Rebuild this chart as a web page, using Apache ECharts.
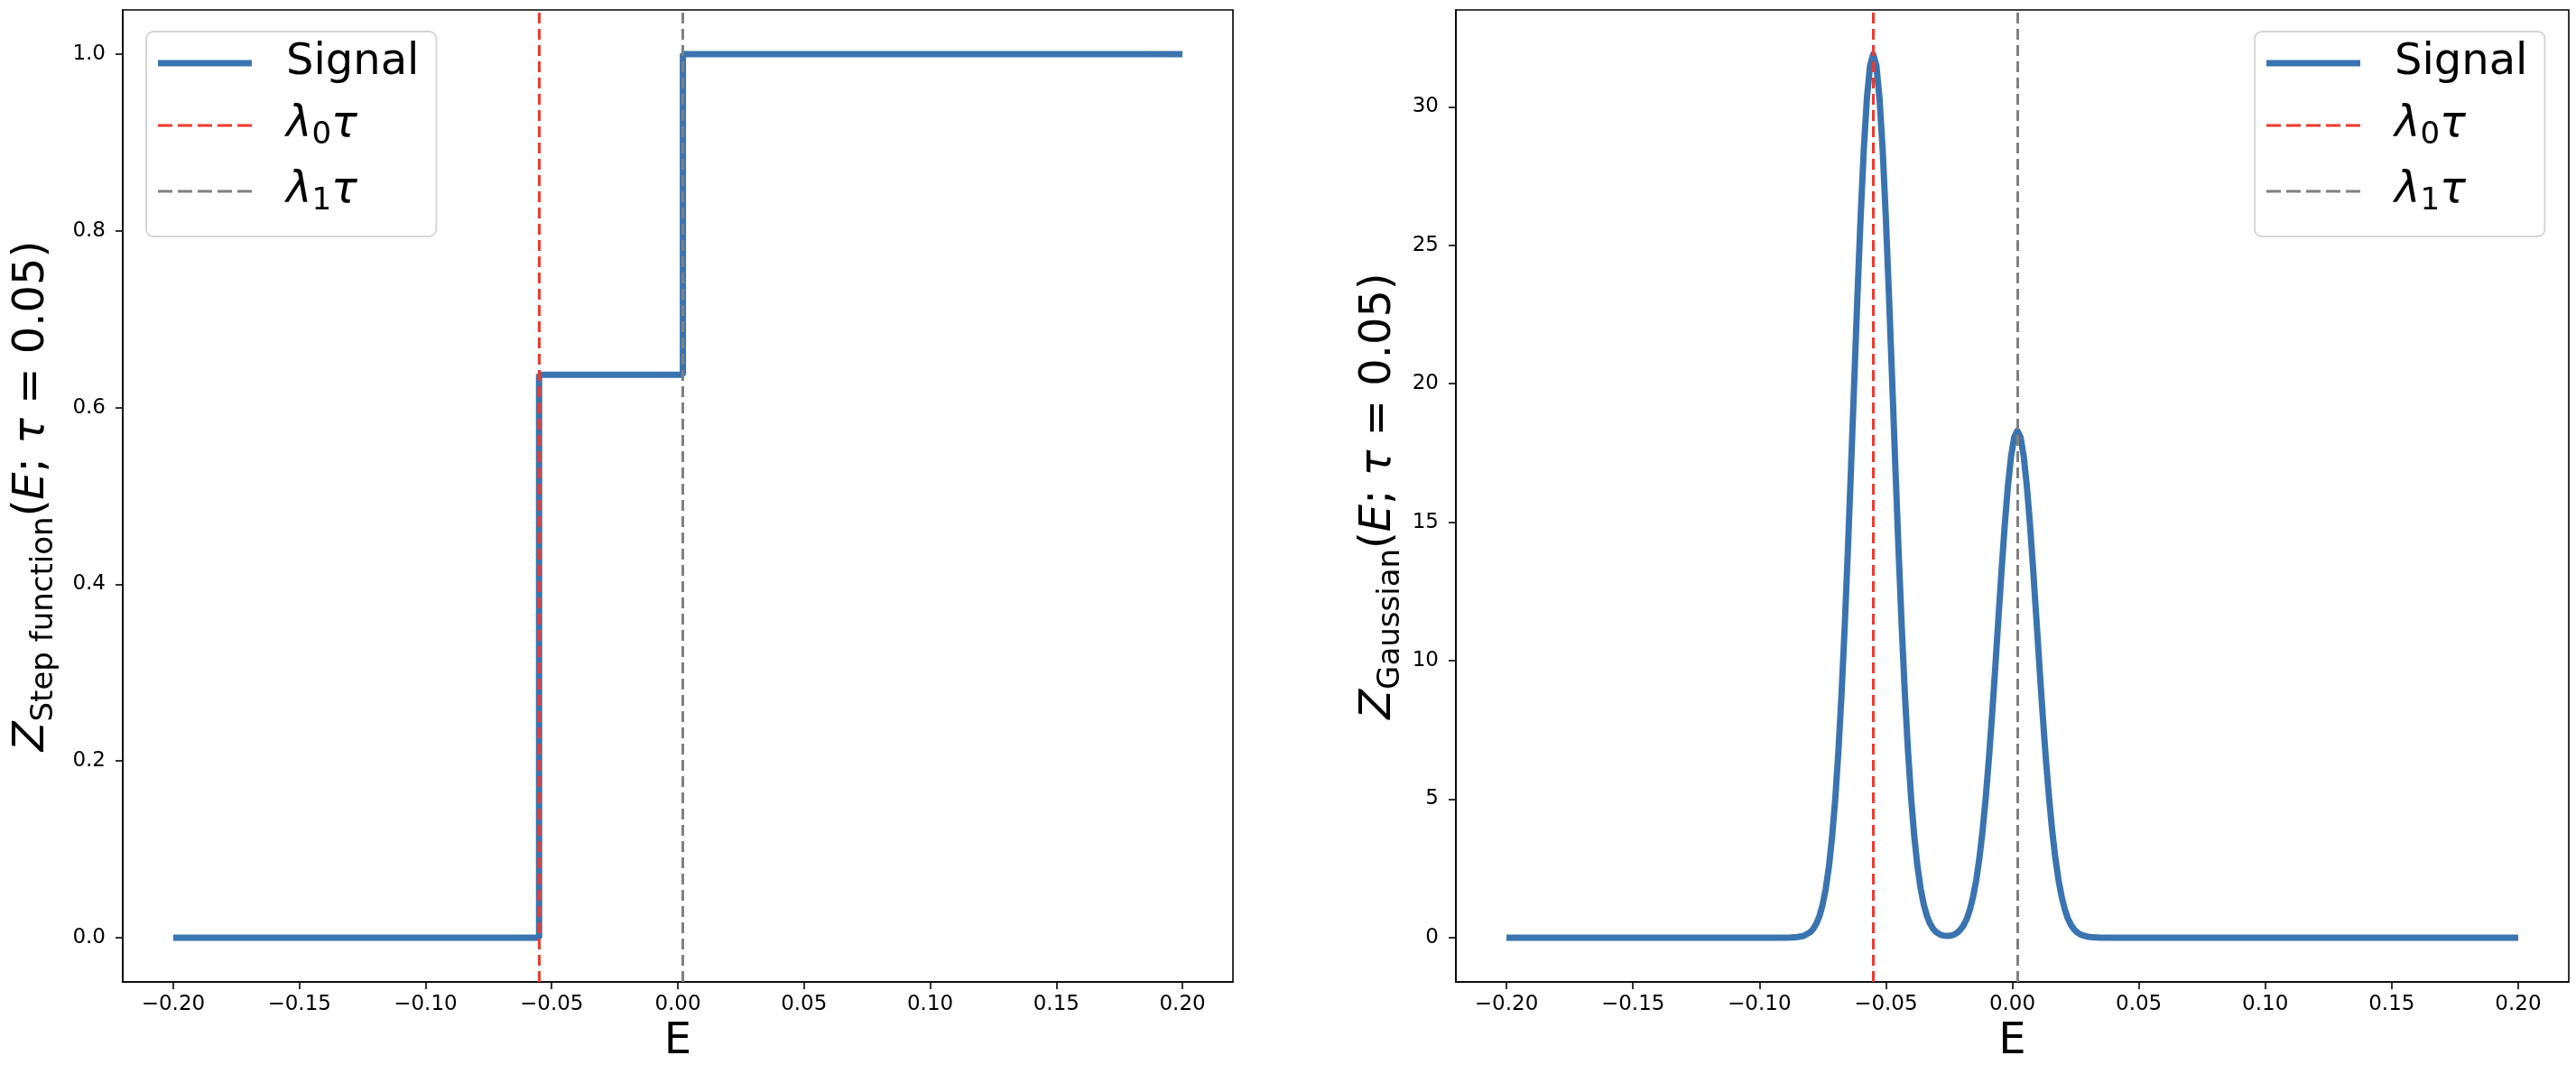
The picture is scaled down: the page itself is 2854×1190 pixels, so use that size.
<!DOCTYPE html>
<html><head><meta charset="utf-8">
<script src="https://cdn.jsdelivr.net/npm/echarts@6/dist/echarts.min.js"></script>
<style>html,body{margin:0;padding:0;background:#fff}#c{width:2854px;height:1190px}</style>
</head><body><div id="c"></div>
<script>
// ---- data ----
const lambda0 = -0.055;   // λ0τ position
const lambda1 = 0.002;    // λ1τ position
const stepX = [-0.2, -0.055, -0.055, 0.002, 0.002, 0.2];
const stepY = [0, 0, 0.637, 0.637, 1, 1];
const gaussX = [-0.2, -0.15, -0.1, -0.09, -0.0875, -0.085, -0.0825, -0.08, -0.07875, -0.0775, -0.07625,
  -0.075, -0.07375, -0.0725, -0.07125, -0.07, -0.06875, -0.0675, -0.06625, -0.065, -0.06375, -0.0625,
  -0.06125, -0.06, -0.05875, -0.0575, -0.05625, -0.055, -0.05375, -0.0525, -0.05125, -0.05, -0.04875,
  -0.0475, -0.04625, -0.045, -0.04375, -0.0425, -0.04125, -0.04, -0.03875, -0.0375, -0.03625, -0.035,
  -0.03375, -0.0325, -0.03125, -0.03, -0.0285, -0.027, -0.0255, -0.024, -0.023, -0.02175, -0.0205,
  -0.01925, -0.018, -0.01675, -0.0155, -0.01425, -0.013, -0.01175, -0.0105, -0.00925, -0.008, -0.00675,
  -0.0055, -0.00425, -0.003, -0.00175, -0.0005, 0.00075, 0.002, 0.00325, 0.0045, 0.00575, 0.007, 0.00825,
  0.0095, 0.01075, 0.012, 0.01325, 0.0145, 0.01575, 0.017, 0.01825, 0.0195, 0.02075, 0.022, 0.02325,
  0.0245, 0.02575, 0.027, 0.0295, 0.032, 0.035, 0.1, 0.2];
const gaussY = [0, 0, 0, 0, 0.005, 0.02, 0.06, 0.19, 0.31, 0.50, 0.78,
  1.19, 1.77, 2.57, 3.64, 5.02, 6.75, 8.83, 11.27, 14.03, 17.01, 20.09,
  23.14, 25.98, 28.42, 30.30, 31.49, 31.9, 31.49, 30.30, 28.42, 25.98, 23.14,
  20.09, 17.01, 14.03, 11.27, 8.83, 6.75, 5.02, 3.64, 2.57, 1.77, 1.19,
  0.78, 0.50, 0.31, 0.19, 0.11, 0.07, 0.065, 0.08, 0.11, 0.18, 0.29,
  0.45, 0.68, 1.02, 1.48, 2.09, 2.88, 3.87, 5.07, 6.47, 8.05, 9.75,
  11.53, 13.27, 14.90, 16.30, 17.38, 18.07, 18.3, 18.07, 17.38, 16.30, 14.90, 13.27,
  11.53, 9.75, 8.05, 6.47, 5.07, 3.87, 2.88, 2.09, 1.48, 1.02, 0.68, 0.45,
  0.29, 0.18, 0.11, 0.04, 0.01, 0, 0, 0];
const xTicks = [-0.2, -0.15, -0.1, -0.05, 0, 0.05, 0.1, 0.15, 0.2];
const yTicksStep = [0, 0.2, 0.4, 0.6, 0.8, 1.0];
const yTicksGauss = [0, 5, 10, 15, 20, 25, 30];
const legendNames = ['Signal', 'λ0τ', 'λ1τ'];

// ---- styling ----
const FONT = 'DejaVu Sans';
const BLUE = '#3a74b0';
const RED = '#ee3a2e';
const GRAY = '#808080';
const DASH = [12, 6];
const ICON_SOLID = 'path://M0 0H104V7H0Z';
const ICON_DASH = 'path://M0 0H16V3H0Z M22 0H38V3H22Z M44 0H60V3H44Z M66 0H82V3H66Z M88 0H104V3H88Z';

function fmtX(v) { return (v < -1e-9 ? '\u2212' : '') + Math.abs(v).toFixed(2); }

const nameRich = {
  i: {fontFamily: FONT, fontStyle: 'italic', fontSize: 48, lineHeight: 60, color: '#000'},
  r: {fontFamily: FONT, fontSize: 48, lineHeight: 60, color: '#000'},
  s: {fontFamily: FONT, fontSize: 34, lineHeight: 24, verticalAlign: 'bottom', color: '#000'}
};
function yName(sub) { return '{i|Z}{s|' + sub + '}{r|(}{i|E}{r|; }{i|τ}{r| = 0.05)}'; }

function xAxisOpt(idx) {
  return {
    type: 'value', gridIndex: idx, min: -0.22, max: 0.22,
    name: 'E', nameLocation: 'middle', nameGap: 43,
    nameTextStyle: {fontFamily: FONT, fontSize: 48, color: '#000'},
    axisLine: {show: true, onZero: false, lineStyle: {color: '#000', width: 1.6}},
    axisTick: {show: true, length: 8, lineStyle: {color: '#000', width: 1.6}, customValues: xTicks},
    axisLabel: {color: '#000', fontSize: 23, fontFamily: FONT, margin: 14, customValues: xTicks, formatter: fmtX},
    splitLine: {show: false}
  };
}
function yAxisOpt(idx, min, max, ticks, fmt, sub, gap) {
  return {
    type: 'value', gridIndex: idx, min: min, max: max,
    name: yName(sub), nameLocation: 'middle', nameRotate: 90, nameGap: gap,
    nameTextStyle: {rich: nameRich},
    axisLine: {show: true, onZero: false, lineStyle: {color: '#000', width: 1.6}},
    axisTick: {show: true, length: 8, lineStyle: {color: '#000', width: 1.6}, customValues: ticks},
    axisLabel: {color: '#000', fontSize: 23, fontFamily: FONT, margin: 19, customValues: ticks, formatter: fmt},
    splitLine: {show: false}
  };
}
function legendOpt(left) {
  return {
    left: left, top: 35, orient: 'vertical', selectedMode: false,
    data: [
      {name: legendNames[0], icon: ICON_SOLID},
      {name: legendNames[1], icon: ICON_DASH},
      {name: legendNames[2], icon: ICON_DASH}
    ],
    itemWidth: 104, itemHeight: 20, itemGap: 21, symbolKeepAspect: true,
    itemStyle: {borderWidth: 0},
    padding: [11, 19, 22, 13],
    backgroundColor: 'rgba(255,255,255,0.85)', borderColor: '#d6d6d6', borderWidth: 2, borderRadius: 8,
    formatter: n => n === 'Signal' ? '{t|Signal}' : '{i|λ}{s|' + n.charAt(1) + '}{i|τ}',
    textStyle: {
      padding: [0, 0, 0, 33],
      rich: {
        t: {fontFamily: FONT, fontSize: 48, lineHeight: 56, color: '#000'},
        i: {fontFamily: FONT, fontStyle: 'italic', fontSize: 48, lineHeight: 56, color: '#000'},
        s: {fontFamily: FONT, fontSize: 34, lineHeight: 32, verticalAlign: 'bottom', color: '#000'}
      }
    }
  };
}
function vline(name, idx, x, color) {
  return {
    name: name, type: 'line', xAxisIndex: idx, yAxisIndex: idx, data: [], symbol: 'none',
    lineStyle: {color: color, width: 3, type: DASH}, itemStyle: {color: color},
    markLine: {
      silent: true, precision: 6, symbol: ['none', 'none'], label: {show: false}, emphasis: {disabled: true},
      lineStyle: {color: color, width: 3, type: DASH}, data: [{xAxis: x}]
    }
  };
}

const chart = echarts.init(document.getElementById('c'), null, {renderer: 'canvas'});
chart.setOption({
  animation: false,
  backgroundColor: '#fff',
  grid: [
    {left: 136, top: 11, width: 1230, height: 1077, show: true, borderColor: '#000', borderWidth: 1.6},
    {left: 1613, top: 11, width: 1233, height: 1077, show: true, borderColor: '#000', borderWidth: 1.6}
  ],
  xAxis: [xAxisOpt(0), xAxisOpt(1)],
  yAxis: [
    yAxisOpt(0, -0.05, 1.05, yTicksStep, v => v.toFixed(1), 'Step function', 70),
    yAxisOpt(1, -1.6, 33.5, yTicksGauss, v => String(Math.round(v)), 'Gaussian', 55)
  ],
  legend: [legendOpt(162), legendOpt(2498)],
  series: [
    {name: 'Signal', type: 'line', xAxisIndex: 0, yAxisIndex: 0, symbol: 'none',
     data: stepX.map((x, i) => [x, stepY[i]]), lineStyle: {color: BLUE, width: 7}, itemStyle: {color: BLUE}},
    vline('λ0τ', 0, lambda0, RED),
    vline('λ1τ', 0, lambda1, GRAY),
    {name: 'Signal', type: 'line', xAxisIndex: 1, yAxisIndex: 1, symbol: 'none',
     data: gaussX.map((x, i) => [x, gaussY[i]]), lineStyle: {color: BLUE, width: 7, join: 'round'}, itemStyle: {color: BLUE}},
    vline('λ0τ', 1, lambda0, RED),
    vline('λ1τ', 1, lambda1, GRAY)
  ]
});
</script></body></html>
